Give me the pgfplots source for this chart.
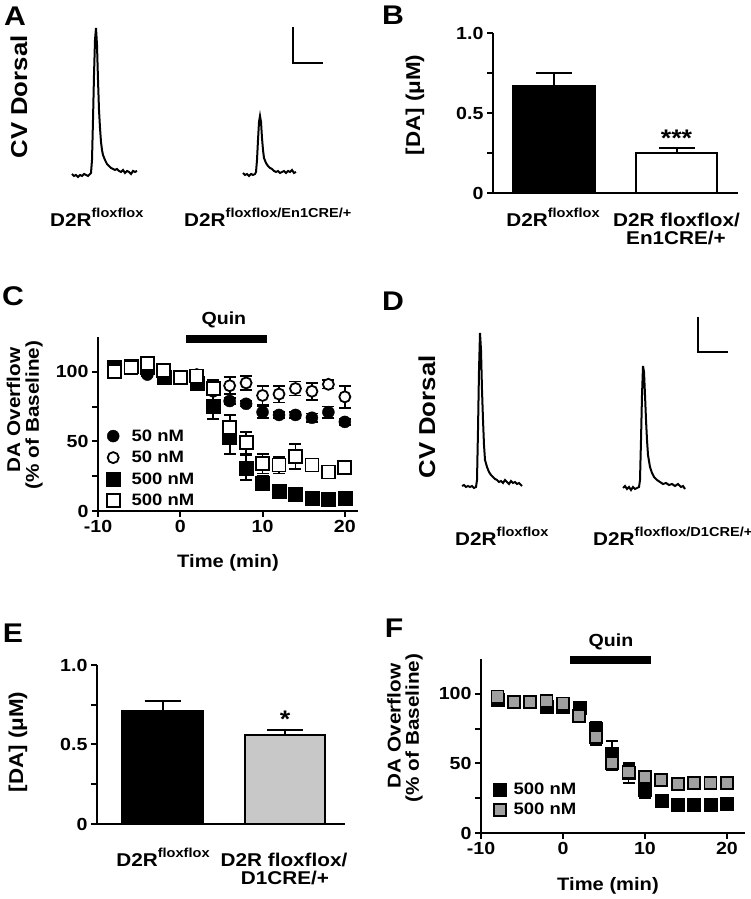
\documentclass[border=0pt]{standalone}
\usepackage{fontspec}
\setmainfont[FakeStretch=1.12]{Liberation Sans}
\usepackage{pgfplots}
\pgfplotsset{compat=1.18}
\definecolor{lgrey}{RGB}{200,200,200}
\definecolor{mgrey}{RGB}{160,160,160}
\newcommand{\fnt}[1]{\bfseries\fontsize{#1}{#1}\selectfont}
\newcommand{\sps}[1]{\raisebox{9.5pt}{\fnt{13}#1}}
\pgfplotsset{
  trace/.style={scale only axis, hide axis, y dir=reverse, clip=false, anchor=south west},
  panel/.style={scale only axis, clip=false, anchor=south west,
    axis lines=left, axis line style={-, line width=2pt, black},
    tick align=outside, major tick length=6pt, minor tick length=6pt,
    every tick/.style={line width=2pt, black},
    tick label style={font=\fnt{17.5}},
    /pgf/number format/assume math mode=true},
  errbar/.style={error bars/.cd, y dir=plus, y explicit,
    error bar style={line width=2pt, black},
    error mark options={rotate=90, mark size=18pt, line width=2pt, black}},
  errb/.style={error bars/.cd, y dir=both, y explicit,
    error bar style={line width=1.8pt, black},
    error mark options={rotate=90, mark size=6pt, line width=1.8pt, black}},
  leg/.style={legend cell align=left,
    legend image code/.code={\draw[##1] plot coordinates {(0pt,0pt)};}},
}
\begin{document}
\begin{tikzpicture}
\useasboundingbox (0pt,0pt) rectangle (751pt,899pt);

% ---------- Panel A traces ----------
\begin{axis}[trace, at={(0pt,669pt)}, width=380pt, height=230pt, xmin=0, xmax=380, ymin=0, ymax=230]
\addplot[black, line width=2pt] coordinates {(72,174)(74,176)(76,175)(78,177)(80,175)(82,176)(84,174)(86,175)(88,176)(90,174)(91,173)(92,160)(93,120)(94,75)(95,40)(96,28)(97,45)(98,80)(99,110)(100,128)(101,142)(102,150)(103,155)(105,160)(107,164)(109,166)(111,168)(113,169)(115,170)(117,169)(119,171)(121,172)(123,170)(125,173)(127,171)(129,172)(131,174)(133,171)(135,172)(137,171)};
\addplot[black, line width=2pt] coordinates {(243,173)(245,175)(247,174)(249,176)(251,174)(253,175)(255,174)(256,172)(257,160)(258,140)(259,122)(260,116)(261,122)(262,138)(263,150)(264,158)(266,163)(268,166)(270,168)(272,169)(274,171)(276,172)(278,171)(280,173)(282,172)(284,171)(286,173)(288,171)(290,172)(292,170)(294,173)(296,172)};
\addplot[black, line width=2.5pt] coordinates {(293,27)(293,63)(323,63)};
\end{axis}

% ---------- Panel D traces ----------
\begin{axis}[trace, at={(380pt,349pt)}, width=371pt, height=270pt, xmin=380, xmax=751, ymin=280, ymax=550]
\addplot[black, line width=2pt] coordinates {(462,486)(464,485)(466,487)(468,486)(470,487)(472,486)(474,488)(476,487)(477,480)(478,430)(479,370)(480,333)(481,350)(482,390)(483,420)(484,445)(485,460)(487,467)(489,472)(491,475)(493,477)(495,479)(497,480)(499,482)(501,481)(503,483)(505,480)(507,482)(509,484)(511,481)(513,483)(515,482)(517,484)(519,483)(521,485)(522,486)};
\addplot[black, line width=2pt] coordinates {(623,488)(625,486)(627,489)(629,487)(631,490)(633,487)(635,489)(637,488)(639,487)(640,480)(641,440)(642,395)(643,366)(644,372)(645,395)(646,420)(647,440)(648,455)(650,467)(652,473)(654,477)(657,480)(660,482)(663,484)(666,483)(669,485)(672,484)(675,486)(678,484)(681,487)(683,486)(685,489)};
\addplot[black, line width=2.5pt] coordinates {(698,317)(698,352)(728,352)};
\end{axis}

% ---------- Panel B ----------
\begin{axis}[panel, at={(493pt,706pt)}, width=245pt, height=160pt,
  xmin=0.502, xmax=2.502, ymin=0, ymax=1, xtick=\empty,
  ytick={0,0.5,1}, yticklabels={0,0.5,1.0}, minor ytick={0.25,0.75}]
\addplot[ybar, bar width=82pt, fill=black, draw=black, line width=1.5pt, errbar] coordinates {(1,0.67) +- (0,0.08)};
\addplot[ybar, bar width=81pt, fill=white, draw=black, line width=1.5pt, errbar] coordinates {(2,0.25) +- (0,0.03)};
\node[font=\fnt{24}] at (axis cs:2,0.34) {***};
\end{axis}

% ---------- Panel E ----------
\begin{axis}[panel, at={(97pt,75pt)}, width=248pt, height=159pt,
  xmin=0.465, xmax=2.49, ymin=0, ymax=1, xtick=\empty,
  ytick={0,0.5,1}, yticklabels={0,0.5,1.0}, minor ytick={0.25,0.75}]
\addplot[ybar, bar width=81pt, fill=black, draw=black, line width=1.5pt, errbar] coordinates {(1,0.71) +- (0,0.065)};
\addplot[ybar, bar width=80pt, fill=lgrey, draw=black, line width=1.5pt, errbar] coordinates {(2,0.56) +- (0,0.03)};
\node[font=\fnt{24}] at (axis cs:2,0.66) {*};
\end{axis}

% ---------- Panel C ----------
\begin{axis}[panel, leg, at={(98pt,388pt)}, width=260pt, height=174pt,
  xmin=-10, xmax=21.6, ymin=0, ymax=125,
  xtick={-10,0,10,20}, xticklabels={-10,0,10,20},
  ytick={0,50,100}, yticklabels={0,50,100}, minor ytick={25,75},
  legend style={at={(axis cs:-9.03,59.7)}, anchor=north west, draw=none, fill=none,
    inner sep=0pt, row sep=5.5pt, font=\fnt{16.5}, nodes={inner sep=1.5pt}}]
\addplot[forget plot, black, line width=8pt] coordinates {(0.7,123.7)(10.5,123.7)};
\node[font=\fnt{17.5}] at (axis cs:5.3,137) {Quin};
\addplot[only marks, mark=*, mark size=6pt, mark options={fill=black, draw=black}, errb]
 coordinates {(-8,102)+-(0,1)(-6,104)+-(0,1)(-4,98)+-(0,1)(-2,97)+-(0,1)(0,96)+-(0,1)(2,96)+-(0,1)(4,86)+-(0,3)(6,79)+-(0,2)(8,77)+-(0,2)(10,71)+-(0,4)(12,69)+-(0,2)(14,69)+-(0,2)(16,67)+-(0,3)(18,71)+-(0,4)(20,64)+-(0,2)};
\addlegendentry{\hspace*{10pt}50 nM}
\addplot[only marks, mark=*, mark size=5.5pt, mark options={fill=white, draw=black, line width=1.8pt}, errb]
 coordinates {(-8,101)+-(0,2)(-6,103)+-(0,2)(-4,104)+-(0,2)(-2,101)+-(0,2)(0,96)+-(0,1)(2,98)+-(0,2)(4,89)+-(0,5)(6,90)+-(0,6)(8,92)+-(0,5)(10,83)+-(0,7)(12,84)+-(0,6)(14,88)+-(0,5)(16,86)+-(0,6)(18,91)+-(0,3)(20,82)+-(0,8)};
\addlegendentry{\hspace*{10pt}50 nM}
\addplot[only marks, mark=square*, mark size=7pt, mark options={fill=black, draw=black}, errb]
 coordinates {(-8,103)+-(0,2)(-6,104)+-(0,2)(-4,103)+-(0,2)(-2,96)+-(0,2)(0,96)+-(0,2)(2,92)+-(0,2)(4,75)+-(0,9)(6,53)+-(0,12)(8,31)+-(0,9)(10,20)+-(0,5)(12,14)+-(0,2)(14,12)+-(0,2)(16,9)+-(0,1)(18,8.5)+-(0,1)(20,9)+-(0,1)};
\addlegendentry{\hspace*{10pt}500 nM}
\addplot[only marks, mark=square*, mark size=6.5pt, mark options={fill=white, draw=black, line width=1.8pt}, errb]
 coordinates {(-8,100)+-(0,2)(-6,103)+-(0,2)(-4,106)+-(0,2)(-2,101)+-(0,2)(0,96)+-(0,2)(2,97)+-(0,2)(4,88)+-(0,4)(6,60)+-(0,9)(8,49)+-(0,8)(10,34)+-(0,7)(12,33)+-(0,6)(14,39)+-(0,9)(16,33)+-(0,4)(18,28)+-(0,2)(20,31)+-(0,2)};
\addlegendentry{\hspace*{10pt}500 nM}
\end{axis}

% ---------- Panel F ----------
\begin{axis}[panel, leg, at={(481pt,66pt)}, width=264pt, height=174pt,
  xmin=-10, xmax=22.2, ymin=0, ymax=125,
  xtick={-10,0,10,20}, xticklabels={-10,0,10,20},
  ytick={0,50,100}, yticklabels={0,50,100}, minor ytick={25,75},
  legend style={at={(axis cs:-8.54,37)}, anchor=north west, draw=none, fill=none,
    inner sep=0pt, row sep=4pt, font=\fnt{16.5}, nodes={inner sep=1.5pt}}]
\addplot[forget plot, black, line width=8pt] coordinates {(0.85,124.5)(10.7,124.5)};
\node[font=\fnt{17.5}] at (axis cs:5.85,137) {Quin};
\addplot[only marks, mark=square*, mark size=6.5pt, mark options={fill=black, draw=black}, errb]
 coordinates {(-8,96)+-(0,1)(-6,94)+-(0,1)(-4,94)+-(0,1)(-2,91)+-(0,2)(0,91)+-(0,2)(2,90)+-(0,2)(4,75)+-(0,5)(6,57)+-(0,9)(8,43)+-(0,7)(10,31)+-(0,6)(12,23)+-(0,3)(14,20)+-(0,3)(16,20)+-(0,2)(18,20)+-(0,3)(20,21)+-(0,4)};
\addlegendentry{\hspace*{6pt}500 nM}
\addplot[only marks, mark=square*, mark size=6pt, mark options={fill=mgrey, draw=black, line width=1.8pt}, errb]
 coordinates {(-8,98)+-(0,2)(-6,94)+-(0,1)(-4,94)+-(0,2)(-2,95)+-(0,2)(0,93)+-(0,2)(2,84)+-(0,3)(4,69)+-(0,6)(6,50)+-(0,5)(8,44)+-(0,5)(10,40)+-(0,3)(12,38)+-(0,3)(14,35)+-(0,2)(16,36)+-(0,2)(18,36)+-(0,2)(20,36)+-(0,2)};
\addlegendentry{\hspace*{6pt}500 nM}
\end{axis}

% ---------- Texts ----------
\node[font=\fnt{27}] at (15pt,883pt) {A};
\node[font=\fnt{27}] at (393pt,884pt) {B};
\node[font=\fnt{27}] at (13pt,603pt) {C};
\node[font=\fnt{27}] at (393pt,598pt) {D};
\node[font=\fnt{27}] at (13pt,266pt) {E};
\node[font=\fnt{27}] at (394pt,271pt) {F};

\node[rotate=90, font=\fnt{23}] at (19pt,802pt) {CV Dorsal};
\node[rotate=90, font=\fnt{23}] at (427pt,482pt) {CV Dorsal};
\node[rotate=90, font=\fnt{20}] at (415pt,794pt) {[DA] (μM)};
\node[rotate=90, font=\fnt{20}] at (18pt,157pt) {[DA] (μM)};
\node[rotate=90, font=\fnt{18.5}] at (13.5pt,489pt) {DA Overflow};
\node[rotate=90, font=\fnt{18.5}] at (34pt,484pt) {(\% of Baseline)};
\node[rotate=90, font=\fnt{18.5}] at (394pt,173pt) {DA Overflow};
\node[rotate=90, font=\fnt{18.5}] at (414pt,171pt) {(\% of Baseline)};
\node[font=\fnt{18}, anchor=base] at (228pt,331pt) {Time (min)};
\node[font=\fnt{18}, anchor=base] at (608pt,9pt) {Time (min)};

\node[font=\fnt{18.5}, anchor=base west, inner sep=0pt] at (50pt,672pt) {D2R\sps{floxflox}};
\node[font=\fnt{18.5}, anchor=base west, inner sep=0pt] at (184pt,672pt) {D2R\sps{floxflox/En1CRE/+}};
\node[font=\fnt{18.5}, anchor=base, inner sep=0pt] at (553pt,672pt) {D2R\sps{floxflox}};
\node[font=\fnt{18.5}, anchor=base, inner sep=0pt] at (676.5pt,672pt) {D2R floxflox/};
\node[font=\fnt{18.5}, anchor=base, inner sep=0pt] at (676pt,654pt) {En1CRE/+};
\node[font=\fnt{18.5}, anchor=base west, inner sep=0pt] at (455pt,353pt) {D2R\sps{floxflox}};
\node[font=\fnt{18.5}, anchor=base west, inner sep=0pt] at (593pt,353pt) {D2R\sps{floxflox/D1CRE/+}};
\node[font=\fnt{18.5}, anchor=base, inner sep=0pt] at (163pt,32pt) {D2R\sps{floxflox}};
\node[font=\fnt{18.5}, anchor=base, inner sep=0pt] at (284pt,32pt) {D2R floxflox/};
\node[font=\fnt{18.5}, anchor=base, inner sep=0pt] at (285pt,14pt) {D1CRE/+};
\end{tikzpicture}
\end{document}
